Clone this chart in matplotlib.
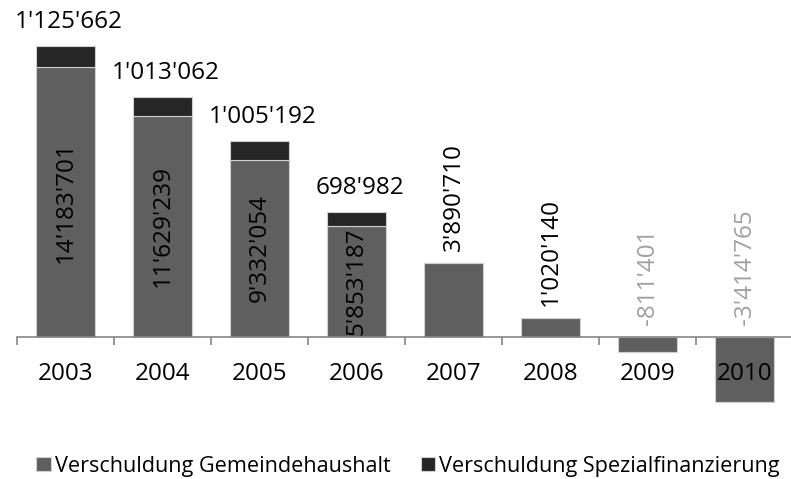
import numpy as np
import matplotlib.pyplot as plt

plt.rcParams['font.family'] = ['Open Sans', 'DejaVu Sans']

years = ['2003', '2004', '2005', '2006', '2007', '2008', '2009', '2010']
haushalt = [14183701, 11629239, 9332054, 5853187, 3890710, 1020140, -811401, -3414765]
spezial = [1125662, 1013062, 1005192, 698982, 0, 0, 0, 0]

GREY = '#5f5f5f'
DARK = '#262626'
FS = 17.5


def fmt(v):
    return '{:,}'.format(v).replace(',', "'")


fig = plt.figure(figsize=(7.91, 4.79), dpi=100)
ax = fig.add_axes([17 / 791, 0.0982, 776 / 791, 0.833])

x = np.arange(len(years))
w = 0.6
h = np.array(haushalt) / 1e6
s = np.array(spezial) / 1e6

ax.bar(x, h, w, color=GREY, edgecolor='#d0d0d0', linewidth=0.8,
       label='Verschuldung Gemeindehaushalt')
ax.bar(x, s, w, bottom=h, color=DARK, edgecolor='#d0d0d0', linewidth=0.8,
       label='Verschuldung Spezialfinanzierung')

ax.set_xlim(-0.5, len(years) - 0.5)
ax.set_ylim(-5, 16)

for i in range(len(years)):
    if spezial[i] > 0:
        # Wert innerhalb des grauen Balkens
        ax.text(x[i], h[i] / 2, fmt(haushalt[i]), rotation=90, ha='center',
                va='center', fontsize=FS, color='black')
        ax.annotate(fmt(spezial[i]), (x[i], h[i] + s[i]), xytext=(3, 24),
                    textcoords='offset pixels', ha='center', va='center',
                    fontsize=FS, color='black')
    else:
        top = max(h[i], 0)
        col = 'black' if haushalt[i] > 0 else '#a0a0a0'
        ax.annotate(fmt(haushalt[i]), (x[i], top), xytext=(0, 12),
                    textcoords='offset pixels', ha='center', va='bottom',
                    rotation=90, fontsize=FS, color=col)

for sp in ['top', 'right', 'left']:
    ax.spines[sp].set_visible(False)
ax.spines['bottom'].set_position(('data', 0))
ax.spines['bottom'].set_color('#868686')
ax.spines['bottom'].set_linewidth(1.2)
ax.set_yticks([])

ax.set_xticks(x)
ax.set_xticklabels(years, fontsize=FS)
ax.set_xticks(np.arange(len(years)) - 0.5, minor=True)
ax.tick_params(axis='x', which='major', length=0, pad=18)
ax.tick_params(axis='x', which='minor', length=6, width=1.2, color='#868686',
               direction='out')

fig.legend(loc='center', bbox_to_anchor=(0.516, 0.027), ncol=2, frameon=False,
           fontsize=15.6, handlelength=0.65, handleheight=0.65, handletextpad=0.2,
           columnspacing=1.4)

fig.savefig('out.png', dpi=100)
